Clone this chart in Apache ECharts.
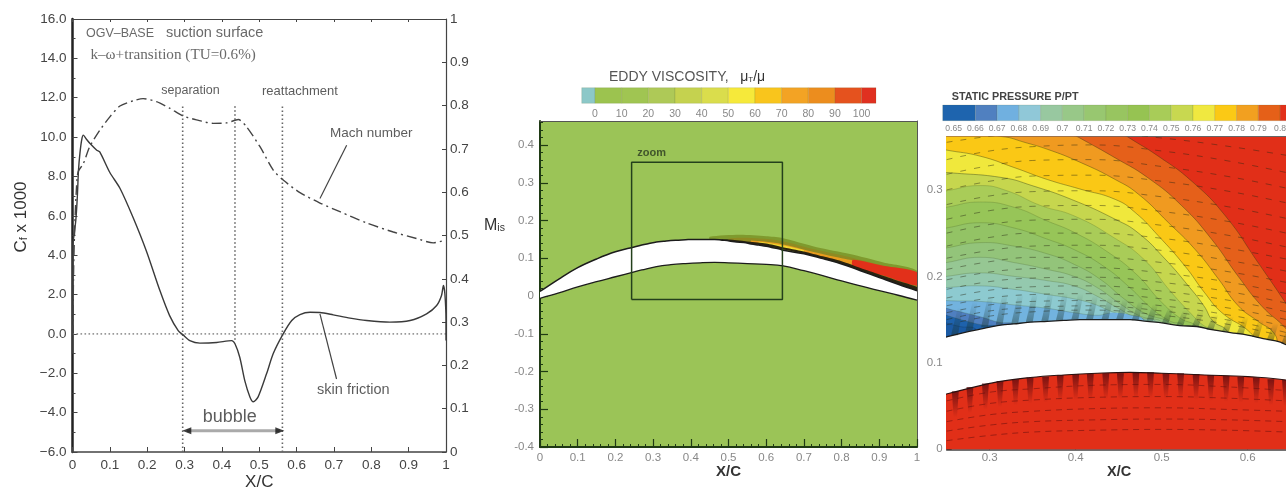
<!DOCTYPE html>
<html><head><meta charset="utf-8">
<script src="https://cdn.jsdelivr.net/npm/echarts@6/dist/echarts.min.js"></script>
<style>html,body{margin:0;padding:0;background:#fff}#c{width:1286px;height:489px;filter:blur(.5px)}</style>
</head><body><div id="c"></div>
<script>
// ---- left panel data
const cfData=[[0,-1],[.001,4.6],[.004,5],[.009,5.8],[.013,7],[.016,8.3],[.02,9.2],[.025,9.9],[.029,10.1],[.037,9.9],[.047,9.67],[.065,9.33],[.073,9.25],[.1,8.2],[.127,7.4],[.1625,5.9],[.198,4.2],[.234,2.2],[.26,.93],[.283,.17],[.296,-.05],[.314,-.34],[.341,-.47],[.386,-.44],[.426,-.34],[.435,-.5],[.448,-1.2],[.4616,-2.4],[.475,-3.2],[.484,-3.45],[.497,-3.2],[.52,-2],[.5375,-1],[.564,0],[.587,.68],[.609,.98],[.636,1.1],[.6625,1.09],[.698,.97],[.743,.8],[.7875,.68],[.85,.6],[.904,.68],[.948,1.02],[.975,1.44],[.988,1.95],[.993,2.46],[.997,2.04],[1,.68],[1,-.34]];
const machData=[[.001,.27],[.003,.42],[.006,.52],[.01,.6],[.015,.647],[.029,.666],[.046,.705],[.073,.743],[.1,.774],[.127,.799],[.1625,.811],[.189,.816],[.225,.809],[.26,.794],[.296,.776],[.332,.767],[.377,.759],[.4125,.76],[.444,.768],[.466,.751],[.502,.705],[.5375,.651],[.564,.628],[.609,.599],[.6625,.575],[.716,.555],[.7875,.529],[.859,.508],[.921,.493],[.966,.483],[.993,.488]];
const dottedLines=[[[.295,-6],[.295,11.63]],[[.435,-.3],[.435,11.63]],[[.562,-6],[.562,11.63]],[[0,0],[1,0]]];
const leaderLines=[[[.734,9.59],[.6625,6.88]],[[.6625,1.02],[.707,-2.29]]];
const bubbleSpan=[[.306,-4.92],[.555,-4.92]];
const notesLeftAligned=[[.036,15.28,'OGV\u2013BASE',12.5],[.25,15.28,'suction surface',14.5]];
const notesSerif=[[.048,14.18,'k\u2013\u03c9+transition (TU=0.6%)',15.2]];
const notesCentered=[[.316,12.34,'separation',12.5],[.609,12.34,'reattachment',13],[.80,10.19,'Mach number',13.5],[.752,-2.85,'skin friction',14.5],[.421,-4.24,'bubble',18]];
// ---- airfoil (shared by middle and right panels)
const suctionSide=[[0,.012],[.05,.045],[.1,.075],[.15,.098],[.2,.117],[.25,.13],[.27,.135],[.289,.139],[.309,.143],[.328,.145],[.347,.147],[.367,.148],[.386,.149],[.405,.15],[.425,.15],[.463,.15],[.483,.148],[.502,.146],[.521,.143],[.541,.142],[.56,.138],[.58,.135],[.6,.132],[.618,.128],[.638,.124],[.645,.121],[.7,.112],[.75,.099],[.8,.085],[.85,.067],[.9,.049],[.95,.031],[1,.014]];
const pressureSide=[[0,-.006],[.05,.008],[.1,.024],[.15,.038],[.2,.051],[.25,.064],[.27,.069],[.309,.078],[.347,.083],[.386,.086],[.425,.088],[.463,.089],[.5,.088],[.55,.086],[.6,.084],[.645,.08],[.7,.067],[.75,.054],[.8,.04],[.85,.027],[.9,.014],[.95,.002],[1,-.011]];
const zoomBox=[[.243,-.009],[.643,-.009],[.643,.354],[.243,.354],[.243,-.009]];
// ---- wake bands (middle panel): outer to inner
const wakeOuter=[[.45,.157],[.53,.162],[.6,.158],[.64,.154],[.734,.129],[.822,.111],[.911,.089],[1,.067],[1,.014],[.9,.049],[.8,.085],[.7,.112],[.6,.132],[.5,.146],[.45,.15]];
const wakeOlive=[[.5,.152],[.55,.154],[.64,.146],[.73,.123],[.82,.103],[.91,.08],[1,.062],[1,.014],[.9,.049],[.8,.085],[.7,.112],[.6,.132],[.5,.146]];
const wakeOrange=[[.56,.147],[.64,.138],[.72,.118],[.8,.1],[.87,.085],[.87,.072],[.8,.09],[.72,.108],[.64,.127],[.56,.14]];
const wakeYellow=[[.58,.144],[.64,.135],[.7,.121],[.7,.116],[.64,.13],[.58,.14]];
const wakeRed=[[.83,.096],[.91,.08],[1,.063],[1,.028],[.91,.054],[.83,.078]];
const wakeWall=[[.47,.151],[.5,.15],[.6,.139],[.64,.13],[.7,.118],[.75,.105],[.8,.092],[.85,.074],[.9,.057],[.95,.04],[1,.024],[1,.014],[.9,.049],[.8,.085],[.7,.112],[.6,.132],[.5,.146]];
// ---- eddy viscosity colour bar
const eddyEdges=[-5,0,10,20,30,40,50,60,70,80,90,100,105.4];
const eddyColors=['#8cc8c8','#9cc34f','#a0c552','#aec957','#c5d24f','#dadd4c','#f6e93a','#f9c51c','#f3a324','#ec8d1e','#e5521e','#e03020'];
const eddyTicks=[0,10,20,30,40,50,60,70,80,90,100];
// ---- static pressure colour bar
const pressEdges=[.645,.66,.67,.68,.69,.70,.71,.72,.73,.74,.75,.76,.77,.78,.79,.80,.8035];
const pressColors=['#1e64ae','#5080c0','#70b0e0','#90c8d8','#98c8a0','#98c888','#98c770','#98c560','#96c352','#a8cc58','#c8d850','#f0e840','#fbc915','#f2a020','#e56018','#e2301a'];
const pressTicks=[.65,.66,.67,.68,.69,.7,.71,.72,.73,.74,.75,.76,.77,.78,.79,.8];
// ---- pressure contours (right panel): outer to inner, each with its fill
const contourFills=['#e5601a','#f09a20','#fac815','#f0e83c','#c6d64e','#a9cc58','#97c558','#93c365','#93c47a','#96c793','#94c9ae','#8dcad0','#72b3df','#4f7fc0','#1e62ac'];
const contour1=[[.44,.375],[.461,.361],[.496,.339],[.535,.31],[.574,.27],[.612,.216],[.645,.168],[.67,.13]];
const contour2=[[.39,.368],[.403,.361],[.446,.337],[.484,.314],[.523,.282],[.558,.243],[.589,.2],[.616,.166],[.645,.139],[.653,.125]];
const contour3=[[.3,.37],[.328,.359],[.367,.347],[.405,.332],[.446,.312],[.473,.295],[.508,.262],[.539,.231],[.566,.197],[.589,.166],[.612,.148],[.63,.135],[.635,.12]];
const contour4=[[.24,.348],[.25,.346],[.289,.339],[.328,.326],[.367,.312],[.405,.301],[.446,.289],[.469,.274],[.496,.247],[.527,.212],[.55,.181],[.57,.158],[.603,.135],[.61,.12]];
const contour5=[[.24,.321],[.252,.32],[.316,.314],[.349,.305],[.395,.289],[.446,.266],[.473,.25],[.504,.22],[.531,.189],[.549,.166],[.56,.148],[.576,.137],[.58,.12]];
const contour6=[[.24,.297],[.25,.299],[.289,.305],[.32,.299],[.359,.282],[.398,.27],[.444,.245],[.479,.22],[.51,.183],[.533,.158],[.549,.143],[.562,.137],[.565,.12]];
const contour7=[[.24,.278],[.25,.28],[.289,.286],[.328,.28],[.367,.264],[.398,.251],[.436,.229],[.471,.202],[.498,.172],[.521,.152],[.541,.141],[.545,.12]];
const contour8=[[.24,.254],[.25,.256],[.289,.262],[.328,.256],[.367,.243],[.398,.231],[.432,.212],[.463,.187],[.487,.164],[.51,.148],[.525,.143],[.528,.12]];
const contour9=[[.24,.231],[.25,.233],[.289,.239],[.328,.235],[.367,.226],[.398,.214],[.428,.197],[.455,.175],[.479,.158],[.513,.143],[.515,.12]];
const contour10=[[.24,.214],[.25,.216],[.289,.222],[.328,.216],[.367,.208],[.398,.2],[.425,.187],[.452,.168],[.475,.154],[.502,.145],[.503,.12]];
const contour11=[[.24,.198],[.25,.2],[.289,.204],[.328,.2],[.367,.195],[.398,.189],[.425,.177],[.448,.164],[.471,.152],[.494,.147],[.495,.12]];
const contour12=[[.24,.186],[.25,.187],[.289,.189],[.328,.185],[.367,.179],[.398,.174],[.421,.168],[.44,.16],[.463,.152],[.483,.147],[.484,.12]];
const contour13=[[.24,.174],[.25,.172],[.289,.171],[.328,.167],[.367,.163],[.398,.158],[.425,.155],[.44,.157],[.465,.155],[.48,.148],[.481,.12]];
const contour14=[[.24,.167],[.25,.163],[.27,.158],[.29,.153],[.31,.147],[.33,.143],[.332,.12]];
const contour15=[[.24,.159],[.25,.155],[.27,.149],[.29,.144],[.31,.14],[.312,.12]];
const contour16=[[.24,.15],[.25,.146],[.265,.142],[.285,.138],[.287,.12]];
const bluePocket=[[.425,.149],[.435,.156],[.455,.157],[.465,.153],[.475,.147],[.475,.14],[.425,.14]];
const contours=[contour1,contour2,contour3,contour4,contour5,contour6,contour7,contour8,contour9,contour10,contour11,contour12,contour13,contour14,contour15];
const contourInnermost=contour16;
// ---- mesh rows of velocity dashes, y at these x stations
const rowX=[.25,.3,.35,.42,.5,.58,.645];
const rowsAbove=[[.355,.362,.366,.366,.36,.35,.34],[.335,.345,.35,.352,.345,.333,.32],[.318,.328,.334,.335,.327,.315,.302],[.3,.31,.316,.317,.31,.298,.285],[.283,.293,.298,.299,.292,.28,.267],[.266,.276,.281,.282,.275,.263,.25],[.25,.26,.265,.266,.259,.247,.234],[.235,.245,.25,.25,.244,.232,.22],[.221,.23,.235,.236,.23,.218,.206],[.208,.217,.222,.222,.216,.205,.193],[.196,.205,.209,.21,.204,.193,.18],[.185,.194,.198,.199,.193,.182,.169],[.175,.184,.188,.189,.183,.172,.159],[.166,.175,.179,.18,.174,.163,.15],[.158,.167,.171,.172,.166,.155,.142],[.15,.16,.164,.166,.16,.149,.135],[.144,.154,.159,.161,.155,.144,.13]];
const rowsBelow=[[.056,.066,.07,.074,.075,.072,.068],[.044,.053,.057,.06,.061,.059,.056],[.032,.04,.044,.047,.048,.046,.044],[.021,.028,.032,.034,.035,.034,.032],[.01,.016,.02,.022,.023,.022,.02]];
// ---- near-wall mesh wedges
const upperWedgeX=[.26,.277,.295,.312,.33,.347,.365,.382,.4,.417,.435,.452,.47,.487,.505,.522,.54,.557,.575,.592,.61,.627,.644];
const upperWedgeY=[.132,.137,.141,.144,.145,.147,.148,.149,.15,.15,.15,.15,.149,.148,.146,.143,.142,.138,.136,.133,.13,.126,.122];
const upperWedgeH=[.032,.034,.036,.036,.035,.034,.033,.032,.03,.028,.026,.024,.022,.02,.018,.018,.018,.018,.018,.02,.02,.02,.02];
const lowerWedgeX=[.26,.277,.295,.312,.33,.347,.365,.382,.4,.417,.435,.452,.47,.487,.505,.522,.54,.557,.575,.592,.61,.627,.644];
const lowerWedgeY=[.067,.072,.076,.079,.081,.083,.084,.086,.087,.087,.088,.088,.089,.089,.088,.088,.087,.086,.085,.084,.083,.081,.08];
const rightYTicks=[0,.05,.1,.15,.2,.25,.3,.35];
const midYTicks=[-.4,-.3,-.2,-.1,0,.1,.2,.3,.4];
const midYMinorTicks=[-.38,-.36,-.34,-.32,-.28,-.26,-.24,-.22,-.18,-.16,-.14,-.12,-.08,-.06,-.04,-.02,.02,.04,.06,.08,.12,.14,.16,.18,.22,.24,.26,.28,.32,.34,.36,.38,.42,.44,.46];

const SANS='"Liberation Sans",Arial,sans-serif', SERIF='"Liberation Serif",serif';
const sx=i=>i*2, sy=i=>i*2;

function polySeries(grid,polys,styleFn,z){
  return {type:'custom',xAxisIndex:sx(grid),yAxisIndex:sy(grid),clip:true,silent:true,z:z||2,
    data:polys.map((_,i)=>[i]),
    renderItem:(p,api)=>{const i=p.dataIndex;const s=styleFn(i);
      return {type:'polygon',shape:{points:polys[i].map(q=>api.coord(q)),smooth:s.smooth||0},style:s.style};}};
}
function lineSeries(grid,data,color,width,type,smooth,z,yIdx){
  return {type:'line',xAxisIndex:sx(grid),yAxisIndex:yIdx===undefined?sy(grid):yIdx,data,showSymbol:false,symbol:'none',silent:true,smooth:smooth===true?.4:(smooth||false),z:z||3,
    lineStyle:{color,width,type:type||'solid'}};
}
function noteSeries(list,family,align,color){
  return {type:'scatter',xAxisIndex:0,yAxisIndex:0,symbolSize:0,silent:true,z:6,
    data:list.map(n=>({value:[n[0],n[1]],label:{show:true,formatter:n[2],fontSize:n[3],fontFamily:family,color,position:align,distance:0}}))};
}
function barSeries(grid,edges,colors){
  return {type:'custom',xAxisIndex:sx(grid),yAxisIndex:sy(grid),silent:true,
    data:colors.map((c,i)=>[edges[i],edges[i+1]]),
    renderItem:(p,api)=>{const a=api.coord([api.value(0),0]),b=api.coord([api.value(1),1]);
      return {type:'rect',shape:{x:a[0],y:b[1],width:b[0]-a[0],height:a[1]-b[1]},
        style:{fill:colors[p.dataIndex],stroke:'rgba(90,100,50,.25)',lineWidth:.6}};}};
}
function closeContour(c){const f=c[0],l=c[c.length-1];return c.concat([[l[0],.105],[.2,.105],[.2,.42],[f[0],.42]]);}
const airfoil=suctionSide.concat(pressureSide.slice().reverse());
const belowWing=pressureSide.concat([[1,-.1],[0,-.1]]);

const base={outerBoundsMode:'none'};
const grids=[
 {...base,left:72.5,top:19,width:373.5,height:433,show:true,backgroundColor:'#fff',borderWidth:0},
 {...base,left:540,top:121,width:377,height:326,show:true,backgroundColor:'#9bc457',borderWidth:0},
 {...base,left:946.7,top:136.7,width:345,height:312.6,show:true,backgroundColor:'#e12f18',borderWidth:0},
 {...base,left:581.7,top:87.7,width:294.3,height:15.6},
 {...base,left:942.7,top:105,width:345,height:15.7}
];
const LC='#444', DG='#1f3a14';
const xAxes=[
 {type:'value',gridIndex:0,min:0,max:1,interval:.1,position:'bottom',name:'X/C',nameLocation:'middle',nameGap:21.5,nameMoveOverlap:false,nameTextStyle:{fontSize:17,color:'#333',fontFamily:SANS},
  axisLine:{show:true,onZero:false,lineStyle:{color:LC,width:1.5}},axisTick:{inside:true,length:5,lineStyle:{color:LC}},splitLine:{show:false},
  axisLabel:{fontSize:13.5,color:'#444',fontFamily:SANS,margin:6,showMinLabel:true,showMaxLabel:true}},
 {type:'value',gridIndex:0,min:0,max:1,interval:.1,position:'top',axisLine:{show:true,onZero:false,lineStyle:{color:LC,width:1.2}},axisTick:{inside:true,length:3,lineStyle:{color:LC}},splitLine:{show:false},axisLabel:{show:false}},
 {type:'value',gridIndex:1,min:0,max:1,interval:.1,position:'bottom',name:'X/C',nameLocation:'middle',nameGap:17,nameMoveOverlap:false,nameTextStyle:{fontSize:15,fontWeight:'bold',color:'#333',fontFamily:SANS},
  axisLine:{show:true,onZero:false,lineStyle:{color:DG,width:2}},axisTick:{inside:true,length:8,lineStyle:{color:DG,width:1.2}},minorTick:{show:true,splitNumber:5,length:3,lineStyle:{color:DG}},splitLine:{show:false},minorSplitLine:{show:false},
  axisLabel:{fontSize:11.5,color:'#888',fontFamily:SANS,margin:5}},
 {type:'value',gridIndex:1,min:0,max:1,interval:.1,position:'top',axisLine:{show:true,onZero:false,lineStyle:{color:'#555',width:1}},axisTick:{show:false},splitLine:{show:false},axisLabel:{show:false}},
 {type:'value',gridIndex:2,min:.25,max:.6512,position:'bottom',name:'X/C',nameLocation:'middle',nameGap:15,nameMoveOverlap:false,nameTextStyle:{fontSize:14.5,fontWeight:'bold',color:'#333',fontFamily:SANS},
  axisLine:{show:true,onZero:false,lineStyle:{color:'#444',width:1.5}},axisTick:{inside:true,length:6,customValues:[.3,.4,.5,.6],lineStyle:{color:'#333'}},splitLine:{show:false},
  axisLabel:{fontSize:11.5,color:'#888',fontFamily:SANS,margin:3,customValues:[.3,.4,.5,.6],formatter:v=>(+v).toFixed(1)}},
 {type:'value',gridIndex:2,min:.25,max:.6512,position:'top',axisLine:{show:true,onZero:false,lineStyle:{color:'#666',width:1}},axisTick:{show:false},splitLine:{show:false},axisLabel:{show:false}},
 {type:'value',gridIndex:3,min:-5,max:105.4,position:'bottom',axisLine:{show:false},axisTick:{show:false},splitLine:{show:false},
  axisLabel:{fontSize:10.5,color:'#888',fontFamily:SANS,margin:5,customValues:eddyTicks}},
 {type:'value',gridIndex:3,min:-5,max:105.4,position:'top',show:false},
 {type:'value',gridIndex:4,min:.645,max:.8035,position:'bottom',axisLine:{show:false},axisTick:{show:false},splitLine:{show:false},
  axisLabel:{fontSize:8.6,color:'#888',fontFamily:SANS,margin:3,customValues:pressTicks,formatter:v=>String(+(+v).toFixed(2))}},
 {type:'value',gridIndex:4,min:.645,max:.8035,position:'top',show:false}
];
const yAxes=[
 {type:'value',gridIndex:0,min:-6,max:16,interval:2,position:'left',axisLine:{show:true,onZero:false,lineStyle:{color:'#222',width:2.5}},axisTick:{inside:true,length:5,lineStyle:{color:LC}},minorTick:{show:true,splitNumber:2,length:3,lineStyle:{color:LC}},splitLine:{show:false},
  axisLabel:{fontSize:13.5,color:'#444',fontFamily:SANS,margin:6,formatter:v=>(v<0?'\u2212':'')+Math.abs(v).toFixed(1)}},
 {type:'value',gridIndex:0,min:0,max:1,interval:.1,position:'right',axisLine:{show:true,onZero:false,lineStyle:{color:LC,width:1.2}},axisTick:{inside:true,length:4,lineStyle:{color:LC}},splitLine:{show:false},
  axisLabel:{fontSize:13.5,color:'#444',fontFamily:SANS,margin:4,formatter:v=>String(+(+v).toFixed(1))}},
 {type:'value',gridIndex:1,min:-.4,max:.4636,position:'left',axisLine:{show:true,onZero:false,lineStyle:{color:DG,width:2}},axisTick:{inside:true,length:8,customValues:midYTicks,lineStyle:{color:DG,width:1.2}},splitLine:{show:false},
  axisLabel:{fontSize:11.5,color:'#888',fontFamily:SANS,margin:6,customValues:midYTicks,formatter:v=>String(+(+v).toFixed(1))}},
 {type:'value',gridIndex:1,min:-.4,max:.4636,position:'right',axisLine:{show:true,onZero:false,lineStyle:{color:'#555',width:1}},axisTick:{show:false},splitLine:{show:false},axisLabel:{show:false}},
 {type:'value',gridIndex:2,min:0,max:.3615,position:'left',axisLine:{show:true,onZero:false,lineStyle:{color:'#666',width:1.5}},axisTick:{inside:true,length:5,customValues:rightYTicks,lineStyle:{color:'#333'}},splitLine:{show:false},
  axisLabel:{fontSize:11.5,color:'#888',fontFamily:SANS,margin:4,customValues:[0,.1,.2,.3],formatter:v=>String(+(+v).toFixed(1))}},
 {type:'value',gridIndex:2,min:0,max:.3615,position:'right',show:false},
 {type:'value',gridIndex:3,min:0,max:1,show:false},
 {type:'value',gridIndex:3,min:0,max:1,show:false,position:'right'},
 {type:'value',gridIndex:4,min:0,max:1,show:false},
 {type:'value',gridIndex:4,min:0,max:1,show:false,position:'right'},
 {type:'value',gridIndex:1,min:-.4,max:.4636,position:'left',axisLine:{show:false},axisTick:{inside:true,length:3,customValues:midYMinorTicks,lineStyle:{color:DG}},splitLine:{show:false},axisLabel:{show:false}}
];

const series=[];
dottedLines.forEach((d,i)=>series.push(lineSeries(0,d,i==3?'#999':'#666',1.6,[1.6,2.4])));
leaderLines.forEach(d=>series.push(lineSeries(0,d,'#444',1.2)));
series.push(lineSeries(0,bubbleSpan,'#aaa',3.2));
series.push({type:'scatter',xAxisIndex:0,yAxisIndex:0,silent:true,symbol:'triangle',symbolSize:[7,9],z:5,itemStyle:{color:'#111'},
  data:[{value:bubbleSpan[0],symbolRotate:90},{value:bubbleSpan[1],symbolRotate:-90}]});
series.push(lineSeries(0,cfData,'#3a3a3a',1.4,'solid',.25,4));
series.push(lineSeries(0,machData,'#444',1.4,[10,4,2,4],.25,4,1));
series.push(noteSeries(notesLeftAligned,SANS,'right','#444'));
series.push(noteSeries(notesSerif,SERIF,'right','#444'));
series.push(noteSeries(notesCentered,SANS,'inside','#333'));
const wakeColors=['#7f9a2e','#8f8a22','#e89c1e','#f0d830','#e2301a','#2a2410'];
series.push(polySeries(1,[wakeOuter,wakeOlive,wakeOrange,wakeYellow,wakeRed,wakeWall],i=>({smooth:.25,style:{fill:wakeColors[i]}})));
series.push(polySeries(1,[airfoil],()=>({style:{fill:'#fff'}})));
series.push(lineSeries(1,suctionSide,'#1c1c1c',1.5,'solid',true,3));
series.push(lineSeries(1,pressureSide,'#1c1c1c',1.3,'solid',true,3));
series.push(lineSeries(1,zoomBox,'#24401c',1.5,'solid',false,4));
series.push({type:'scatter',xAxisIndex:2,yAxisIndex:2,symbolSize:0,silent:true,z:6,
  data:[{value:[.258,.378],label:{show:true,formatter:'zoom',fontSize:11,fontWeight:'bold',color:'#2a3a20',fontFamily:SANS,position:'right',distance:0}}]});
const rPolys=contours.map(closeContour);
series.push(polySeries(2,rPolys,i=>({smooth:.5,style:{fill:contourFills[i],stroke:i<5?'rgba(50,60,20,.5)':'rgba(50,70,20,.25)',lineWidth:.8}})));
series.push(polySeries(2,[closeContour(contourInnermost)],()=>({smooth:.5,style:{fill:'#1a5aa4',stroke:'rgba(20,40,60,.3)',lineWidth:.8}})));
series.push(polySeries(2,[bluePocket],()=>({smooth:.5,style:{fill:'#70b0e0'}})));
series.push(polySeries(2,[airfoil,belowWing],i=>({style:{fill:i?'#e12f18':'#fff'}})));
const lg=(top,bot)=>new echarts.graphic.LinearGradient(0,0,0,1,[{offset:0,color:top},{offset:1,color:bot}]);
series.push(polySeries(2,upperWedgeX.map((x,i)=>{const y=upperWedgeY[i],h=upperWedgeH[i];return [[x-.005,y],[x+.003,y],[x+.009,y+h],[x+.003,y+h]];}),
  ()=>({style:{fill:lg('rgba(25,50,40,0)','rgba(25,50,40,.42)')}})));
series.push(polySeries(2,lowerWedgeX.map((x,i)=>{const y=lowerWedgeY[i];return [[x-.004,y],[x+.004,y],[x+.002,y-.03],[x-.002,y-.03]];}),
  ()=>({style:{fill:lg('rgba(90,10,15,.75)','rgba(90,10,15,0)')}})));
rowsAbove.forEach(r=>series.push(lineSeries(2,r.map((y,i)=>[rowX[i],y]),'rgba(40,40,20,.5)',.9,[6,8],true,3)));
rowsBelow.forEach(r=>series.push(lineSeries(2,r.map((y,i)=>[rowX[i],y]),'rgba(90,15,15,.55)',.9,[6,5],true,3)));
series.push(lineSeries(2,suctionSide,'#1c1c1c',1.3,'solid',true,3));
series.push(lineSeries(2,pressureSide,'#2a1010',1.1,'solid',true,3));
series.push(barSeries(3,eddyEdges,eddyColors));
series.push(barSeries(4,pressEdges,pressColors));

const option={animation:false,tooltip:{show:false},grid:grids,xAxis:xAxes,yAxis:yAxes,series,
 graphic:[
  {type:'text',x:21,y:217,rotation:Math.PI/2,silent:true,style:{text:'{a|C}{b|f}{a| x 1000}',align:'center',verticalAlign:'middle',rich:{a:{fontSize:17,fontFamily:SANS,fill:'#333'},b:{fontSize:11,fontFamily:SANS,fill:'#333',padding:[6,0,0,0]}}}},
  {type:'text',x:484,y:226,silent:true,style:{text:'{a|M}{b|is}',verticalAlign:'middle',rich:{a:{fontSize:16,fontFamily:SANS,fill:'#333'},b:{fontSize:10.5,fontFamily:SANS,fill:'#333',padding:[5,0,0,0]}}}},
  {type:'text',x:609,y:77,silent:true,style:{text:'{a|EDDY VISCOSITY,   }{m|\u03bc}{s|T}{m|/\u03bc}',verticalAlign:'middle',rich:{a:{fontSize:14,fontFamily:SANS,fill:'#555'},m:{fontSize:14,fontFamily:SANS,fill:'#333'},s:{fontSize:8,fontFamily:SANS,fill:'#333',padding:[5,0,0,0]}}}},
  {type:'text',x:951.7,y:97,silent:true,style:{text:'STATIC PRESSURE P/PT',verticalAlign:'middle',fontSize:10.8,fontWeight:'bold',fontFamily:SANS,fill:'#444'}}
 ]};
const chart=echarts.init(document.getElementById('c'),null,{renderer:'canvas'});
chart.setOption(option);
</script></body></html>
